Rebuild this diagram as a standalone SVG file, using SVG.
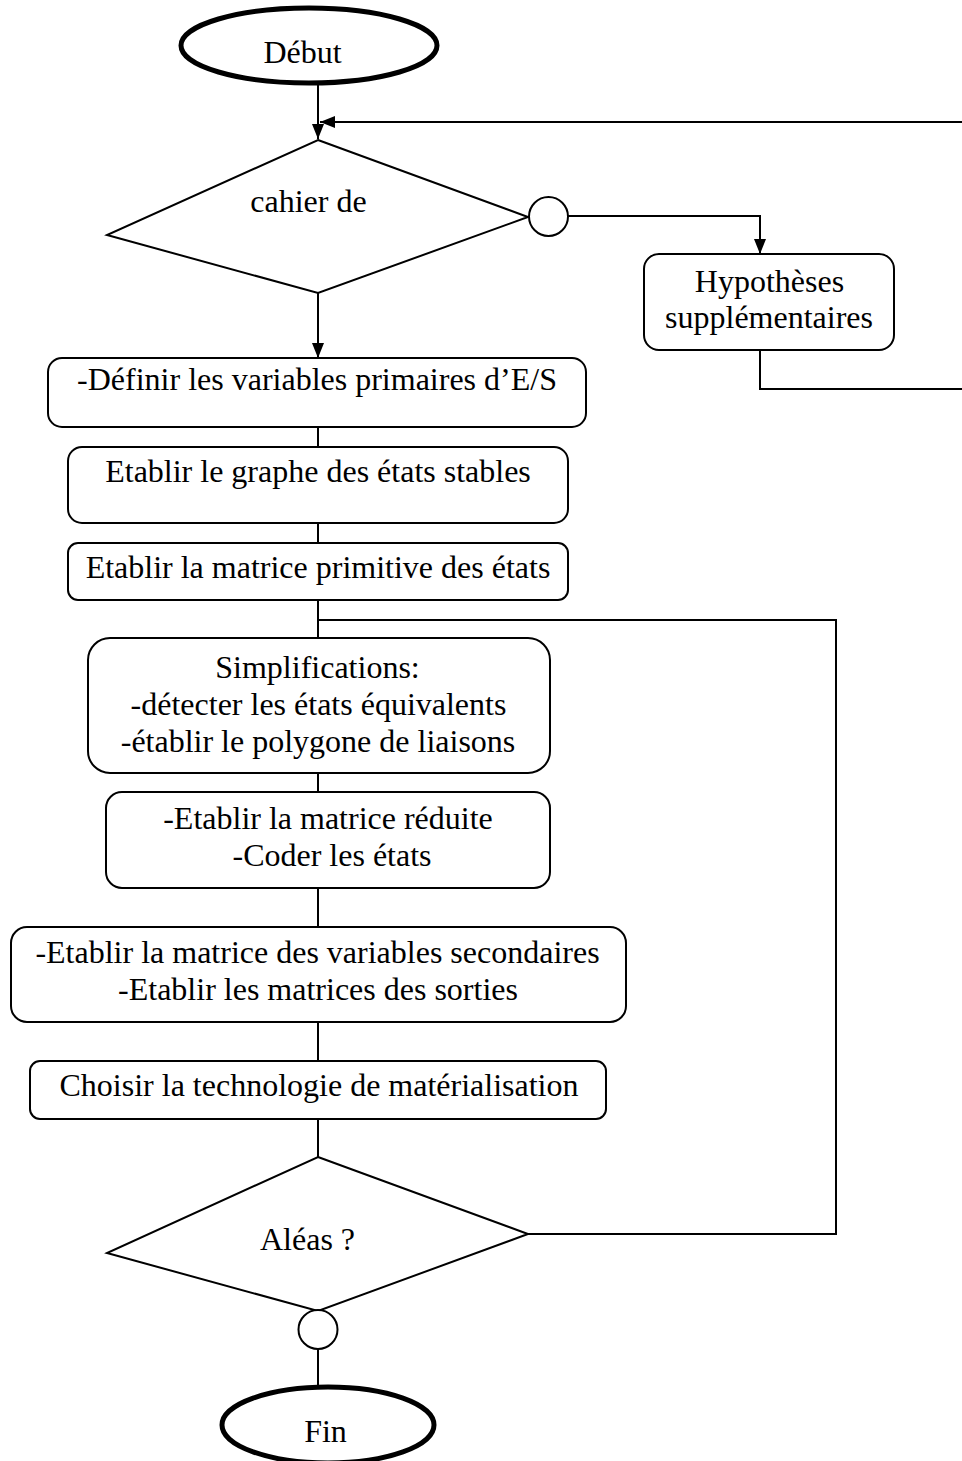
<svg xmlns="http://www.w3.org/2000/svg" width="962" height="1461" viewBox="0 0 962 1461">
  <style>
    .shape { fill: #fff; stroke: #000; stroke-width: 2; }
    .term { fill: #fff; stroke: #000; stroke-width: 5; }
    .wire { fill: none; stroke: #000; stroke-width: 2; }
    text { font-family: "Liberation Serif", "Times New Roman", serif; font-size: 32px; fill: #000; text-anchor: middle; }
  </style>
  <defs>
    <marker id="arrow" markerUnits="userSpaceOnUse" markerWidth="15" markerHeight="12" refX="15" refY="6" orient="auto">
      <path d="M0,0 L15,6 L0,12 Z" fill="#000"/>
    </marker>
  </defs>

  <!-- connectors -->
  <g id="connectors">
    <path class="wire" d="M318,83 V139" marker-end="url(#arrow)"/>
    <path class="wire" d="M962,122 H320" marker-end="url(#arrow)"/>
    <path class="wire" d="M318,293 V358" marker-end="url(#arrow)"/>
    <path class="wire" d="M568,216 H760 V254" marker-end="url(#arrow)"/>
    <path class="wire" d="M760,350 V389 H962"/>
    <path class="wire" d="M318,427 V447"/>
    <path class="wire" d="M318,523 V543"/>
    <path class="wire" d="M318,600 V638"/>
    <path class="wire" d="M318,620 H836 V1234 H528"/>
    <path class="wire" d="M318,773 V792"/>
    <path class="wire" d="M318,888 V927"/>
    <path class="wire" d="M318,1022 V1061"/>
    <path class="wire" d="M318,1119 V1157"/>
    <path class="wire" d="M318,1349 V1387"/>
  </g>

  <g id="debut">
    <ellipse class="term" cx="309" cy="45.5" rx="128" ry="37.5"/>
    <text x="302.5" y="63">Début</text>
  </g>

  <g id="cahier">
    <polygon class="shape" points="318,140 528,217 318,293 107,235"/>
    <text x="308.5" y="212">cahier de</text>
  </g>

  <g id="branch-oui">
    <circle class="shape" cx="548.5" cy="216.5" r="19.5"/>
  </g>

  <g id="hypotheses">
    <rect class="shape" x="644" y="254" width="250" height="96" rx="15"/>
    <text x="769.5" y="292">Hypothèses</text>
    <text x="769" y="328">supplémentaires</text>
  </g>

  <g id="variables-es">
    <rect class="shape" x="48" y="358" width="538" height="69" rx="14"/>
    <text x="317" y="390">-Définir les variables primaires d’E/S</text>
  </g>

  <g id="graphe">
    <rect class="shape" x="68" y="447" width="500" height="76" rx="14"/>
    <text x="318" y="482">Etablir le graphe des états stables</text>
  </g>

  <g id="matrice-primitive">
    <rect class="shape" x="68" y="543" width="500" height="57" rx="10"/>
    <text x="318" y="578">Etablir la matrice primitive des états</text>
  </g>

  <g id="simplifications">
    <rect class="shape" x="88" y="638" width="462" height="135" rx="22"/>
    <text x="317.5" y="678">Simplifications:</text>
    <text x="318.5" y="715">-détecter les états équivalents</text>
    <text x="318" y="752">-établir le polygone de liaisons</text>
  </g>

  <g id="matrice-reduite">
    <rect class="shape" x="106" y="792" width="444" height="96" rx="16"/>
    <text x="328" y="829">-Etablir la matrice réduite</text>
    <text x="332" y="866">-Coder les états</text>
  </g>

  <g id="variables-secondaires">
    <rect class="shape" x="11" y="927" width="615" height="95" rx="16"/>
    <text x="317.5" y="963">-Etablir la matrice des variables secondaires</text>
    <text x="318" y="1000">-Etablir les matrices des sorties</text>
  </g>

  <g id="technologie">
    <rect class="shape" x="30" y="1061" width="576" height="58" rx="10"/>
    <text x="319" y="1096">Choisir la technologie de matérialisation</text>
  </g>

  <g id="aleas">
    <polygon class="shape" points="318,1157 528,1234 318,1311 107,1253"/>
    <text x="307.5" y="1250">Aléas ?</text>
  </g>

  <g id="branch-non">
    <circle class="shape" cx="318" cy="1329.5" r="19.5"/>
  </g>

  <g id="fin">
    <ellipse class="term" cx="328" cy="1425" rx="106" ry="38"/>
    <text x="325.5" y="1442">Fin</text>
  </g>
</svg>
